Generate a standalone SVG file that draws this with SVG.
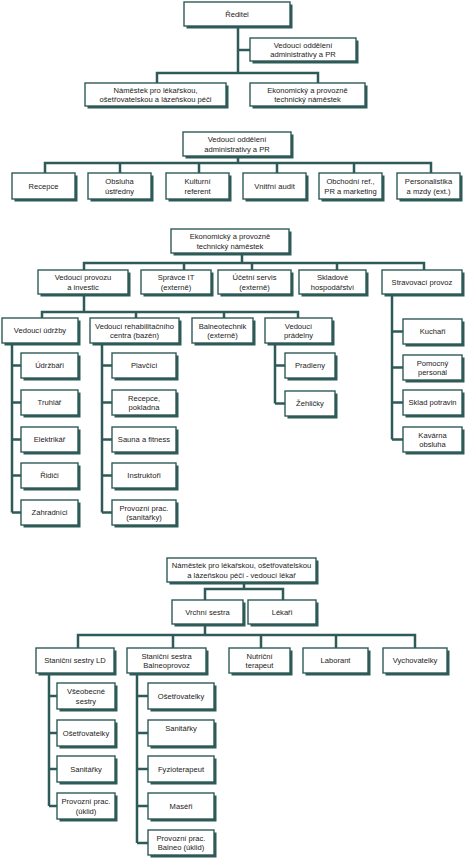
<svg xmlns="http://www.w3.org/2000/svg" width="467" height="859" viewBox="0 0 467 859">
<style>
.sh{fill:#2e5b57}
.bx{fill:#fff;stroke:#2e5b57;stroke-width:1.4}
.t{font-family:"Liberation Sans",Arial,sans-serif;font-size:7.6px;fill:#222;text-anchor:middle}
.c{fill:none;stroke:#2e5b57;stroke-width:2.5}
</style>
<rect width="467" height="859" fill="#fff"/>
<g id="connectors">
<path class="c" d="M238 26V73M238 50H250M157 83V73H318V83"/>
<path class="c" d="M238 156V163M45 173V163H431V173M120 163V173M199 163V173M277 163V173M354 163V173"/>
<path class="c" d="M242 253V263M84 270V263H424V270M184 263V270M252 263V270M337 263V270"/>
<path class="c" d="M84 294V312M42 318V312H298V318M136 312V318M224 312V318"/>
<path class="c" d="M12 343V512.5M12 365.5H21M12 402.5H21M12 439.5H21M12 475.5H21M12 512.5H21"/>
<path class="c" d="M102 343V512.5M102 365.5H112M102 402.5H112M102 439.5H112M102 475.5H112M102 512.5H112"/>
<path class="c" d="M275 343V403.5M275 365.5H285M275 403.5H285"/>
<path class="c" d="M392 294V439.5M392 331.5H403M392 367.5H403M392 402.5H403M392 439.5H403"/>
<path class="c" d="M244 582V589M205 600V589H283V600"/>
<path class="c" d="M205 624V635M78 648V635H415V648M173 635V648M261 635V648M336 635V648"/>
<path class="c" d="M49 673V806M49 696H57M49 733H57M49 769H57M49 806H57"/>
<path class="c" d="M137 673V843M137 696H148M137 733H148M137 769H148M137 806H148M137 843H148"/>
</g>

<g id="reditel"><rect class="sh" x="186.5" y="4.5" width="106" height="24"/><rect class="bx" x="184" y="2" width="106" height="24"/><text class="t" x="237" y="16.7">Ředitel</text></g>
<g id="ved-adm-top"><rect class="sh" x="252.5" y="40.5" width="106" height="23"/><rect class="bx" x="250" y="38" width="106" height="23"/><text class="t" x="303" y="47.7">Vedoucí oddělení</text><text class="t" x="303" y="57">administrativy a PR</text></g>
<g id="namestek-top"><rect class="sh" x="87.5" y="85.5" width="141" height="23"/><rect class="bx" x="85" y="83" width="141" height="23"/><text class="t" x="155.5" y="92.7">Náměstek pro lékařskou,</text><text class="t" x="155.5" y="102">ošetřovatelskou a lázeňskou péči</text></g>
<g id="ekonom-top"><rect class="sh" x="252.5" y="85.5" width="115" height="23"/><rect class="bx" x="250" y="83" width="115" height="23"/><text class="t" x="307.5" y="92.7">Ekonomický a provozně</text><text class="t" x="307.5" y="102">technický náměstek</text></g>

<g id="ved-adm"><rect class="sh" x="185.5" y="134.5" width="108" height="24"/><rect class="bx" x="183" y="132" width="108" height="24"/><text class="t" x="237" y="142.2">Vedoucí oddělení</text><text class="t" x="237" y="151.5">administrativy a PR</text></g>
<g id="recepce"><rect class="sh" x="14.5" y="175.5" width="63" height="26"/><rect class="bx" x="12" y="173" width="63" height="26"/><text class="t" x="43.5" y="188.7">Recepce</text></g>
<g id="obsluha"><rect class="sh" x="90.5" y="175.5" width="63" height="26"/><rect class="bx" x="88" y="173" width="63" height="26"/><text class="t" x="119.5" y="184.2">Obsluha</text><text class="t" x="119.5" y="193.5">ústředny</text></g>
<g id="kulturni"><rect class="sh" x="168.5" y="175.5" width="63" height="26"/><rect class="bx" x="166" y="173" width="63" height="26"/><text class="t" x="197.5" y="184.2">Kulturní</text><text class="t" x="197.5" y="193.5">referent</text></g>
<g id="audit"><rect class="sh" x="245.5" y="175.5" width="63" height="26"/><rect class="bx" x="243" y="173" width="63" height="26"/><text class="t" x="274.5" y="188.7">Vnitřní audit</text></g>
<g id="obchodni"><rect class="sh" x="321.5" y="175.5" width="63" height="26"/><rect class="bx" x="319" y="173" width="63" height="26"/><text class="t" x="350.5" y="184.2">Obchodní ref.,</text><text class="t" x="350.5" y="193.5">PR a marketing</text></g>
<g id="personal"><rect class="sh" x="399.5" y="175.5" width="63" height="26"/><rect class="bx" x="397" y="173" width="63" height="26"/><text class="t" x="428.5" y="184.2">Personalistika</text><text class="t" x="428.5" y="193.5">a mzdy (ext.)</text></g>

<g id="ekonom"><rect class="sh" x="173.5" y="231.5" width="118" height="24"/><rect class="bx" x="171" y="229" width="118" height="24"/><text class="t" x="230" y="239.2">Ekonomický a provozně</text><text class="t" x="230" y="248.5">technický náměstek</text></g>
<g id="ved-provozu"><rect class="sh" x="40.5" y="272.5" width="90" height="24"/><rect class="bx" x="38" y="270" width="90" height="24"/><text class="t" x="83" y="280.2">Vedoucí provozu</text><text class="t" x="83" y="289.5">a investic</text></g>
<g id="spravce-it"><rect class="sh" x="143.5" y="272.5" width="70" height="24"/><rect class="bx" x="141" y="270" width="70" height="24"/><text class="t" x="176" y="280.2">Správce IT</text><text class="t" x="176" y="289.5">(externě)</text></g>
<g id="ucetni"><rect class="sh" x="220.5" y="272.5" width="73" height="24"/><rect class="bx" x="218" y="270" width="73" height="24"/><text class="t" x="254.5" y="280.2">Účetní servis</text><text class="t" x="254.5" y="289.5">(externě)</text></g>
<g id="skladove"><rect class="sh" x="301.5" y="272.5" width="67" height="24"/><rect class="bx" x="299" y="270" width="67" height="24"/><text class="t" x="332.5" y="280.2">Skladové</text><text class="t" x="332.5" y="289.5">hospodářství</text></g>
<g id="stravovaci"><rect class="sh" x="384.5" y="272.5" width="80" height="24"/><rect class="bx" x="382" y="270" width="80" height="24"/><text class="t" x="422" y="284.7">Stravovací provoz</text></g>

<g id="ved-udrzby"><rect class="sh" x="4.5" y="320.5" width="76" height="25"/><rect class="bx" x="2" y="318" width="76" height="25"/><text class="t" x="40" y="333.2">Vedoucí údržby</text></g>
<g id="ved-rehab"><rect class="sh" x="92.5" y="320.5" width="89" height="25"/><rect class="bx" x="90" y="318" width="89" height="25"/><text class="t" x="134.5" y="328.7">Vedoucí rehabilitačního</text><text class="t" x="134.5" y="338">centra (bazén)</text></g>
<g id="balneotech"><rect class="sh" x="194.5" y="320.5" width="61" height="25"/><rect class="bx" x="192" y="318" width="61" height="25"/><text class="t" x="222.5" y="328.7">Balneotechnik</text><text class="t" x="222.5" y="338">(externě)</text></g>
<g id="ved-pradelny"><rect class="sh" x="267.5" y="320.5" width="67" height="25"/><rect class="bx" x="265" y="318" width="67" height="25"/><text class="t" x="298.5" y="328.7">Vedoucí</text><text class="t" x="298.5" y="338">prádelny</text></g>

<g id="udrzbari"><rect class="sh" x="23.5" y="355.5" width="57" height="25"/><rect class="bx" x="21" y="353" width="57" height="25"/><text class="t" x="49.5" y="368.2">Údržbáři</text></g>
<g id="truhlar"><rect class="sh" x="23.5" y="392.5" width="57" height="25"/><rect class="bx" x="21" y="390" width="57" height="25"/><text class="t" x="49.5" y="405.2">Truhlář</text></g>
<g id="elektrikar"><rect class="sh" x="23.5" y="429.5" width="57" height="25"/><rect class="bx" x="21" y="427" width="57" height="25"/><text class="t" x="49.5" y="442.2">Elektrikář</text></g>
<g id="ridici"><rect class="sh" x="23.5" y="465.5" width="57" height="25"/><rect class="bx" x="21" y="463" width="57" height="25"/><text class="t" x="49.5" y="478.2">Řidiči</text></g>
<g id="zahradnici"><rect class="sh" x="23.5" y="502.5" width="57" height="25"/><rect class="bx" x="21" y="500" width="57" height="25"/><text class="t" x="49.5" y="515.2">Zahradníci</text></g>

<g id="plavcici"><rect class="sh" x="114.5" y="355.5" width="64" height="25"/><rect class="bx" x="112" y="353" width="64" height="25"/><text class="t" x="144" y="368.2">Plavčíci</text></g>
<g id="recepce-pokladna"><rect class="sh" x="114.5" y="392.5" width="64" height="25"/><rect class="bx" x="112" y="390" width="64" height="25"/><text class="t" x="144" y="400.7">Recepce,</text><text class="t" x="144" y="410">pokladna</text></g>
<g id="sauna"><rect class="sh" x="114.5" y="429.5" width="64" height="25"/><rect class="bx" x="112" y="427" width="64" height="25"/><text class="t" x="144" y="442.2">Sauna a fitness</text></g>
<g id="instruktori"><rect class="sh" x="114.5" y="465.5" width="64" height="25"/><rect class="bx" x="112" y="463" width="64" height="25"/><text class="t" x="144" y="478.2">Instruktoři</text></g>
<g id="provozni-sanit"><rect class="sh" x="114.5" y="502.5" width="64" height="25"/><rect class="bx" x="112" y="500" width="64" height="25"/><text class="t" x="144" y="510.7">Provozní prac.</text><text class="t" x="144" y="520">(sanitářky)</text></g>

<g id="pradleny"><rect class="sh" x="287.5" y="355.5" width="50" height="25"/><rect class="bx" x="285" y="353" width="50" height="25"/><text class="t" x="310" y="368.2">Pradleny</text></g>
<g id="zehlicky"><rect class="sh" x="287.5" y="393.5" width="50" height="25"/><rect class="bx" x="285" y="391" width="50" height="25"/><text class="t" x="310" y="406.2">Žehličky</text></g>

<g id="kuchari"><rect class="sh" x="405.5" y="321.5" width="59" height="25"/><rect class="bx" x="403" y="319" width="59" height="25"/><text class="t" x="432.5" y="334.2">Kuchaři</text></g>
<g id="pomocny"><rect class="sh" x="405.5" y="357.5" width="59" height="25"/><rect class="bx" x="403" y="355" width="59" height="25"/><text class="t" x="432.5" y="365.7">Pomocný</text><text class="t" x="432.5" y="375">personál</text></g>
<g id="sklad"><rect class="sh" x="405.5" y="392.5" width="59" height="25"/><rect class="bx" x="403" y="390" width="59" height="25"/><text class="t" x="432.5" y="405.2">Sklad potravin</text></g>
<g id="kavarna"><rect class="sh" x="405.5" y="429.5" width="59" height="25"/><rect class="bx" x="403" y="427" width="59" height="25"/><text class="t" x="432.5" y="437.7">Kavárna</text><text class="t" x="432.5" y="447">obsluha</text></g>

<g id="namestek"><rect class="sh" x="169.5" y="560.5" width="149" height="24"/><rect class="bx" x="167" y="558" width="149" height="24"/><text class="t" x="241.5" y="568.2">Náměstek pro lékařskou, ošetřovatelskou</text><text class="t" x="241.5" y="577.5">a lázeňskou péči - vedoucí lékař</text></g>
<g id="vrchni"><rect class="sh" x="174.5" y="602.5" width="71" height="24"/><rect class="bx" x="172" y="600" width="71" height="24"/><text class="t" x="207.5" y="614.7">Vrchní sestra</text></g>
<g id="lekari"><rect class="sh" x="250.5" y="602.5" width="68" height="24"/><rect class="bx" x="248" y="600" width="68" height="24"/><text class="t" x="282" y="614.7">Lékaři</text></g>

<g id="stanicni-ld"><rect class="sh" x="38.5" y="650.5" width="78" height="25"/><rect class="bx" x="36" y="648" width="78" height="25"/><text class="t" x="75" y="663.2">Staniční sestry LD</text></g>
<g id="stanicni-balneo"><rect class="sh" x="129.5" y="650.5" width="79" height="25"/><rect class="bx" x="127" y="648" width="79" height="25"/><text class="t" x="166.5" y="658.7">Staniční sestra</text><text class="t" x="166.5" y="668">Balneoprovoz</text></g>
<g id="nutricni"><rect class="sh" x="231.5" y="650.5" width="61" height="25"/><rect class="bx" x="229" y="648" width="61" height="25"/><text class="t" x="259.5" y="658.7">Nutriční</text><text class="t" x="259.5" y="668">terapeut</text></g>
<g id="laborant"><rect class="sh" x="305.5" y="650.5" width="65" height="25"/><rect class="bx" x="303" y="648" width="65" height="25"/><text class="t" x="335.5" y="663.2">Laborant</text></g>
<g id="vychovatelky"><rect class="sh" x="385.5" y="650.5" width="64" height="25"/><rect class="bx" x="383" y="648" width="64" height="25"/><text class="t" x="415" y="663.2">Vychovatelky</text></g>

<g id="vseobecne"><rect class="sh" x="59.5" y="685.5" width="58" height="26"/><rect class="bx" x="57" y="683" width="58" height="26"/><text class="t" x="86" y="694.2">Všeobecné</text><text class="t" x="86" y="703.5">sestry</text></g>
<g id="osetrovatelky-ld"><rect class="sh" x="59.5" y="722.5" width="58" height="26"/><rect class="bx" x="57" y="720" width="58" height="26"/><text class="t" x="86" y="735.7">Ošetřovatelky</text></g>
<g id="sanitarky-ld"><rect class="sh" x="59.5" y="758.5" width="58" height="26"/><rect class="bx" x="57" y="756" width="58" height="26"/><text class="t" x="86" y="771.7">Sanitářky</text></g>
<g id="provozni-ld"><rect class="sh" x="59.5" y="795.5" width="58" height="26"/><rect class="bx" x="57" y="793" width="58" height="26"/><text class="t" x="86" y="804.2">Provozní prac.</text><text class="t" x="86" y="813.5">(úklid)</text></g>

<g id="osetrovatelky-b"><rect class="sh" x="150.5" y="685.5" width="66" height="26"/><rect class="bx" x="148" y="683" width="66" height="26"/><text class="t" x="181" y="698.7">Ošetřovatelky</text></g>
<g id="sanitarky-b"><rect class="sh" x="150.5" y="722.5" width="66" height="26"/><rect class="bx" x="148" y="720" width="66" height="26"/><text class="t" x="181" y="731.2">Sanitářky</text></g>
<g id="fyzio"><rect class="sh" x="150.5" y="758.5" width="66" height="26"/><rect class="bx" x="148" y="756" width="66" height="26"/><text class="t" x="181" y="771.7">Fyzioterapeut</text></g>
<g id="maseri"><rect class="sh" x="150.5" y="795.5" width="66" height="26"/><rect class="bx" x="148" y="793" width="66" height="26"/><text class="t" x="181" y="808.7">Maséři</text></g>
<g id="provozni-b"><rect class="sh" x="150.5" y="832.5" width="66" height="25"/><rect class="bx" x="148" y="830" width="66" height="25"/><text class="t" x="181" y="840.7">Provozní prac.</text><text class="t" x="181" y="850">Balneo (úklid)</text></g>
</svg>
